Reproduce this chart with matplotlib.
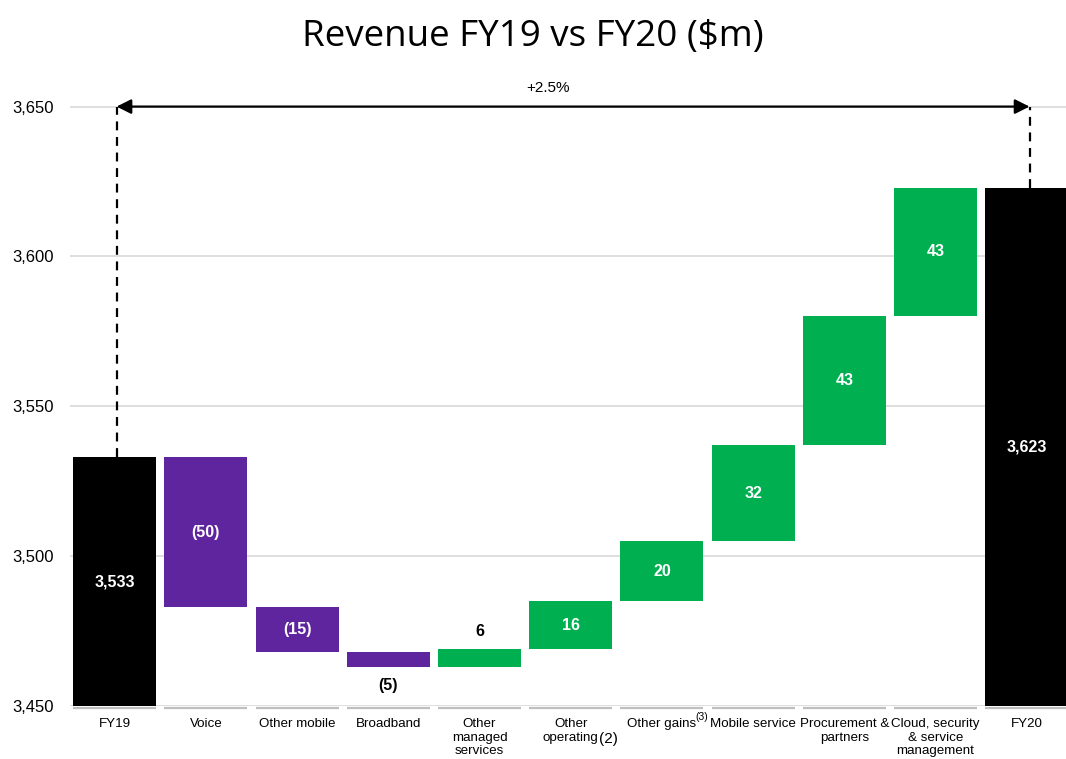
import matplotlib
matplotlib.use("Agg")
import matplotlib.pyplot as plt

plt.rcParams['font.family'] = ['Liberation Sans', 'DejaVu Sans']

categories = ["FY19", "Voice", "Other mobile", "Broadband", "Other\nmanaged\nservices",
              "Other\noperating", "Other gains", "Mobile service",
              "Procurement &\npartners", "Cloud, security\n& service\nmanagement", "FY20"]
start_total = 3533
changes = [-50, -15, -5, 6, 16, 20, 32, 43, 43]
end_total = 3623
change_labels = ["(50)", "(15)", "(5)", "6", "16", "20", "32", "43", "43"]
growth_label = "+2.5%"
yticks = [3450, 3500, 3550, 3600, 3650]

PURPLE = "#5F259F"
GREEN = "#00B050"

fig = plt.figure(figsize=(10.66, 7.59), dpi=100)
ax = fig.add_axes([0.0657, 0.0698, 0.9343, 0.849])
ymin = 3450
width = 0.91
VFS = 11.5

# totals
ax.bar(0, start_total - ymin, bottom=ymin, width=width, color="black", zorder=3)
ax.bar(10, end_total - ymin, bottom=ymin, width=width, color="black", zorder=3)
ax.text(0, (start_total + ymin) / 2, f"{start_total:,}", ha="center", va="center",
        color="white", fontsize=VFS, fontweight="bold", zorder=4)
ax.text(10, (end_total + ymin) / 2, f"{end_total:,}", ha="center", va="center",
        color="white", fontsize=VFS, fontweight="bold", zorder=4)

level = start_total
for i, (c, lab) in enumerate(zip(changes, change_labels), start=1):
    lo, hi = (level + c, level) if c < 0 else (level, level + c)
    ax.bar(i, hi - lo, bottom=lo, width=width, color=PURPLE if c < 0 else GREEN, zorder=3)
    if abs(c) >= 10:
        ax.text(i, (lo + hi) / 2, lab, ha="center", va="center", color="white",
                fontsize=VFS, fontweight="bold", zorder=4)
    elif c < 0:
        ax.text(i, lo - 3.5, lab, ha="center", va="top", color="black",
                fontsize=VFS, fontweight="bold", zorder=4)
    else:
        ax.text(i, hi + 3.5, lab, ha="center", va="bottom", color="black",
                fontsize=VFS, fontweight="bold", zorder=4)
    level += c

# baseline segments under each category
for i in range(len(categories)):
    ax.plot([i - width / 2, i + width / 2], [ymin - 0.6, ymin - 0.6], color="#bfbfbf",
            lw=1.6, zorder=2, clip_on=False, solid_capstyle="butt")

# dashed connectors and arrow
top = 3650
ax.plot([0.02, 0.02], [start_total, top], ls=(0, (4, 3)), color="black", lw=1.6, zorder=5)
ax.plot([10.03, 10.03], [end_total, top], ls=(0, (4, 3)), color="black", lw=1.6, zorder=5)
ax.annotate("", xy=(0.02, top), xytext=(10.03, top),
            arrowprops=dict(arrowstyle="<|-|>", color="black", lw=1.6,
                            mutation_scale=22, shrinkA=0, shrinkB=0), zorder=5)
ax.text(4.75, top + 4, growth_label, ha="center", va="bottom", fontsize=11)

ax.set_xlim(-0.49, 10.43)
ax.set_ylim(ymin, 3665)
ax.set_yticks(yticks)
ax.set_yticklabels([f"{v:,}" for v in yticks], fontsize=12)
ax.yaxis.grid(True, color="#d9d9d9", lw=1.2, zorder=0)
ax.set_axisbelow(True)
ax.set_xticks(range(len(categories)))
ax.set_xticklabels(categories, fontsize=9.6, va="top", linespacing=1.2)
ax.tick_params(axis="both", length=0)
ax.tick_params(axis="x", pad=8.5)
ax.tick_params(axis="y", pad=12)
for s in ax.spines.values():
    s.set_visible(False)
ax.text(5.41, 3439, "(2)", ha="center", va="center", fontsize=11)
ax.text(6.37, 3446.3, "(3)", ha="left", va="center", fontsize=7.5)

fig.suptitle("Revenue FY19 vs FY20 ($m)", fontsize=26.5, y=0.975,
             fontfamily=["Open Sans", "DejaVu Sans"], fontweight="normal")

fig.savefig("out.png", dpi=100)
